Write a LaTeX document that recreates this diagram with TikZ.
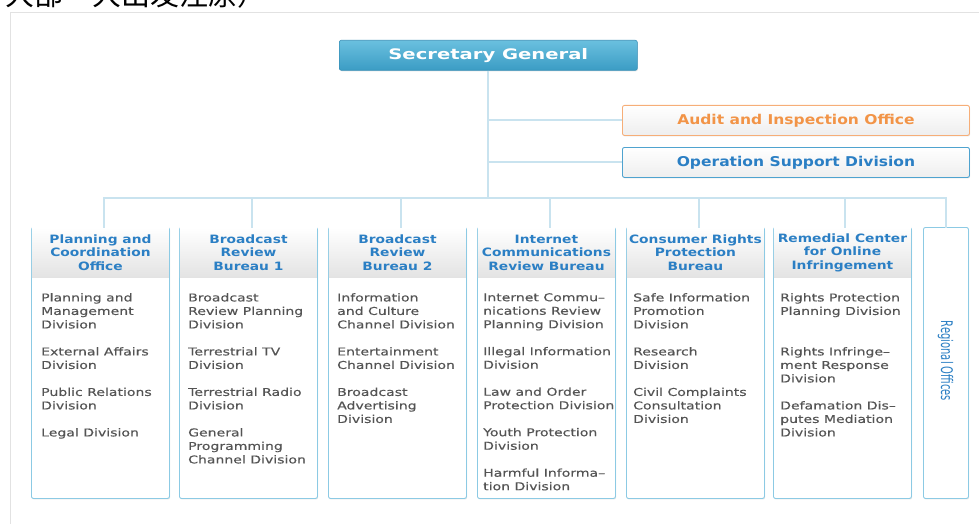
\documentclass[tikz,border=0pt]{standalone}
\usepackage{fontspec}
\setmainfont{DejaVu Sans}
\newfontfamily\hdfont[FakeStretch=1.2]{DejaVu Sans}
\newfontfamily\sdfont[FakeStretch=1.15]{DejaVu Sans}
\newfontfamily\bdfont[FakeStretch=1.3, FakeBold=0.3]{DejaVu Sans}
\newfontfamily\sgfont[FakeStretch=1.35]{DejaVu Sans}
\newfontfamily\regfont[FakeStretch=0.62]{DejaVu Sans}
\newfontfamily\cjkfont{Noto Sans CJK SC}
\usetikzlibrary{positioning,shadows}

\definecolor{linkblue}{HTML}{C9E3EF}
\definecolor{boxblue}{HTML}{8CCAE4}
\definecolor{headblue}{HTML}{2B7FC4}
\definecolor{headgray}{HTML}{E3E3E3}
\definecolor{bodygray}{HTML}{545454}
\definecolor{sgtop}{HTML}{6AC0DF}
\definecolor{sgbot}{HTML}{3B9CC4}
\definecolor{sgline}{HTML}{3890B8}
\definecolor{auditline}{HTML}{F6AE78}
\definecolor{audittext}{HTML}{F29447}
\definecolor{opsline}{HTML}{4FA3CF}
\definecolor{framegray}{HTML}{E2E2E2}

\tikzset{
  link/.style={draw=linkblue, line width=2pt},
  softshadow/.style={drop shadow={shadow xshift=0.6pt, shadow yshift=-1pt, opacity=0.2}},
  sgbox/.style={draw=sgline, line width=0.6pt, rounded corners=2pt, top color=sgtop, bottom color=sgbot,
    minimum width=298pt, minimum height=30pt, anchor=north west, text=white,
    font=\sgfont\bfseries\fontsize{14.5}{16}\selectfont, softshadow},
  sidebox/.style={line width=0.9pt, rounded corners=2pt, top color=white, bottom color=headgray!60,
    minimum width=347pt, minimum height=30pt, anchor=north west,
    font=\sdfont\bfseries\fontsize{13.5}{15}\selectfont, softshadow},
  colbox/.style={draw=boxblue, line width=0.9pt, rounded corners=2pt, fill=white,
    minimum width=138pt, minimum height=271pt, anchor=north west, softshadow},
  headbox/.style={top color=white, bottom color=headgray, minimum width=137pt, minimum height=50pt,
    anchor=north, align=center, inner sep=0pt, text=headblue,
    font=\hdfont\bfseries\fontsize{11.5}{13.5}\selectfont},
  bodytext/.style={anchor=north west, align=left, inner sep=0pt, text=bodygray,
    font=\bdfont\fontsize{10.8}{13.5}\selectfont},
}

\begin{document}
\begin{tikzpicture}[x=1pt, y=-1pt]
    \useasboundingbox (0,0) rectangle (979,524);
    % Page frame and source line cut at the top
    \draw[framegray, line width=0.8pt] (10,540) -- (10,12) -- (995,12);
    \node[anchor=base west, inner sep=0pt, font=\cjkfont\fontsize{29}{30}\selectfont] (src) at (5,6) {大部一大出发注原）};
    % Top of the chart
    \node[sgbox] (sg) at (339,40) {Secretary General};
    \node[sidebox, draw=auditline, text=audittext] (audit) at (622,105) {Audit and Inspection Office};
    \node[sidebox, draw=opsline, text=headblue] (ops) at (622,147) {Operation Support Division};
    % Columns with their headers
    \foreach \i/\x/\name in {1/31/{Planning and\\Coordination\\Office},
                             2/179/{Broadcast\\Review\\Bureau 1},
                             3/328/{Broadcast\\Review\\Bureau 2},
                             4/477/{Internet\\Communications\\Review Bureau},
                             5/626/{Consumer Rights\\Protection\\Bureau},
                             6/773/{Remedial Center\\for Online\\Infringement}} {
            \node[colbox] (col\i) at (\x,227) {};
            \node[headbox] (hd\i) at ([yshift=-0.5pt]col\i.north) {\name};
        }
    \node[colbox, minimum width=45pt] (col7) at (923,227) {};
    \node[rotate=-90, inner sep=0pt, text=headblue, font=\regfont\fontsize{16}{18}\selectfont] (reg) at (945.5,361) {Regional Offices};
    % Divisions
    \node[bodytext] (bd1) at ([xshift=10pt, yshift=-66pt]col1.north west)
        {Planning and\\Management\\Division\\[13.5pt]External Affairs\\Division\\[13.5pt]Public Relations\\Division\\[13.5pt]Legal Division};
    \node[bodytext] (bd2) at ([xshift=9pt, yshift=-66pt]col2.north west)
        {Broadcast\\Review Planning\\Division\\[13.5pt]Terrestrial TV\\Division\\[13.5pt]Terrestrial Radio\\Division\\[13.5pt]General\\Programming\\Channel Division};
    \node[bodytext] (bd3) at ([xshift=9pt, yshift=-66pt]col3.north west)
        {Information\\and Culture\\Channel Division\\[13.5pt]Entertainment\\Channel Division\\[13.5pt]Broadcast\\Advertising\\Division};
    \node[bodytext] (bd4) at ([xshift=6pt, yshift=-66pt]col4.north west)
        {Internet Commu–\\nications Review\\Planning Division\\[13.5pt]Illegal Information\\Division\\[13.5pt]Law and Order\\Protection Division\\[13.5pt]Youth Protection\\Division\\[13.5pt]Harmful Informa–\\tion Division};
    \node[bodytext] (bd5) at ([xshift=7pt, yshift=-66pt]col5.north west)
        {Safe Information\\Promotion\\Division\\[13.5pt]Research\\Division\\[13.5pt]Civil Complaints\\Consultation\\Division};
    \node[bodytext] (bd6) at ([xshift=7pt, yshift=-66pt]col6.north west)
        {Rights Protection\\Planning Division\\[27pt]Rights Infringe–\\ment Response\\Division\\[13.5pt]Defamation Dis–\\putes Mediation\\Division};
    % Connectors
    \coordinate (bus) at (sg.south |- 0,198);
    \coordinate (tA) at (sg.south |- audit.west);
    \coordinate (tO) at (sg.south |- ops.west);
    \draw[link] (sg.south) -- (bus);
    \draw[link] (tA) -- (audit.west);
    \draw[link] (tO) -- (ops.west);
    \foreach \i/\dx in {1/3.5, 2/3.5, 3/4, 4/3.5, 5/3.5, 6/3, 7/0} {
            \draw[link] ([xshift=\dx pt, yshift=-0.5pt]col\i.north) |- (bus);
        }
\end{tikzpicture}
\end{document}
